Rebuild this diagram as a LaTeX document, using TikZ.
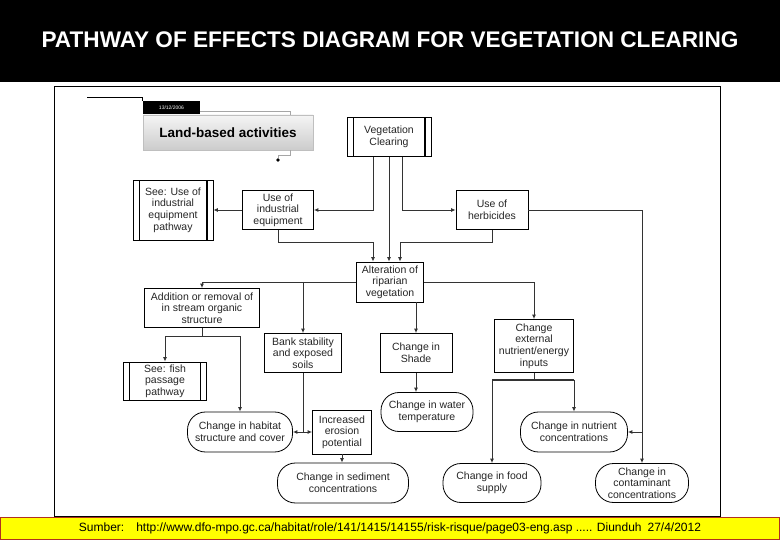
\documentclass[tikz,border=0pt]{standalone}
\usepackage{fontspec}
\setmainfont{Liberation Sans}
\usetikzlibrary{positioning,arrows.meta}
\definecolor{lineC}{HTML}{333333}
\definecolor{footC}{HTML}{FFFF00}
\definecolor{rimC}{HTML}{B03020}
\newcommand{\boxfont}{\fontsize{10.5}{11.6}\selectfont}
\tikzset{
  proc/.style={draw, fill=white, align=center, font=\boxfont, text=black!85, inner sep=1pt, line width=0.8pt},
  pathway/.style={proc, path picture={
      \draw[line width=0.8pt] ([xshift=6pt]path picture bounding box.south west) -- ([xshift=6pt]path picture bounding box.north west);
      \draw[line width=1.4pt] ([xshift=-6pt]path picture bounding box.south east) -- ([xshift=-6pt]path picture bounding box.north east);}},
  effect/.style={proc, rounded corners=18pt},
  flow/.style={draw=lineC, line width=0.9pt, -{Latex[length=4.5pt,width=4pt]}},
  bus/.style={draw=lineC, line width=1.8pt},
  deco/.style={draw=gray!70, line width=0.8pt},
}

\begin{document}
\begin{tikzpicture}[x=1pt, y=-1pt]
\useasboundingbox (0,0) rectangle (780,540);
\fill[black] (0,0) rectangle (780,82);
\node[font=\fontsize{22.6}{26}\selectfont\bfseries, text=white] (title) at (390,40) {PATHWAY OF EFFECTS DIAGRAM FOR VEGETATION CLEARING};
\draw[line width=0.8pt] (54,86) rectangle (720,516);
\fill[footC, draw=rimC, line width=1pt] (0.5,517) rectangle (779.5,539.5);
\node[font=\fontsize{12}{14}\selectfont] (source) at (390,528.5) {Sumber:\quad http://www.dfo-mpo.gc.ca/habitat/role/141/1415/14155/risk-risque/page03-eng.asp ..... Diunduh\enspace 27/4/2012};

\coordinate (rulestart) at (87,97);
\node[fill=black, text=white, font=\fontsize{5}{6}\selectfont, minimum width=57pt, minimum height=13pt, inner sep=0pt] (date) at (171.5,108) {13/12/2006};
\node[draw=gray!50, top color=gray!8, bottom color=gray!40, font=\fontsize{13.5}{15}\selectfont\bfseries, minimum width=170pt, minimum height=35pt] (land) at (228,132.5) {Land-based activities};
\node[circle, fill=black, inner sep=1.3pt] (dot) at (278,160) {};
\draw[line width=0.8pt] (rulestart) -| (date.north west);
\draw[deco] ([yshift=-3pt]date.east) -| ([xshift=62pt]land.north);
\draw[deco] ([xshift=62pt]land.south) -- ++(0,5) -| (dot);

\node[pathway, minimum width=84pt, minimum height=39pt] (vc) at (389,137) {Vegetation\\Clearing};
\node[pathway, minimum width=80pt, minimum height=60pt] (seeuie) at (173,210) {See: Use of\\industrial\\equipment\\pathway};
\node[proc, minimum width=71pt, minimum height=39pt] (uie) at (278,210) {Use of\\industrial\\equipment};
\node[proc, minimum width=72pt, minimum height=39pt] (herb) at (492,210) {Use of\\herbicides};
\node[proc, minimum width=67pt, minimum height=40pt] (alt) at (390,282) {Alteration of\\riparian\\vegetation};
\node[proc, minimum width=115pt, minimum height=39pt] (add) at (202,308) {Addition or removal of\\in stream organic\\structure};
\node[proc, minimum width=77pt, minimum height=39pt] (bank) at (303,353) {Bank stability\\and exposed\\soils};
\node[proc, minimum width=72pt, minimum height=39pt] (shade) at (416,353) {Change in\\Shade};
\node[proc, minimum width=79pt, minimum height=53pt] (ext) at (534,346) {Change\\external\\nutrient/energy\\inputs};
\node[pathway, minimum width=83pt, minimum height=38pt] (fish) at (165,381) {See: fish\\passage\\pathway};
\node[effect, minimum width=105pt, minimum height=40pt] (hab) at (240,432) {Change in habitat\\structure and cover};
\node[proc, minimum width=59pt, minimum height=44pt] (eros) at (342,432) {Increased\\erosion\\potential};
\node[effect, minimum width=92pt, minimum height=39pt] (water) at (427,412) {Change in water\\temperature};
\node[effect, minimum width=107pt, minimum height=40pt] (nutr) at (574,432) {Change in nutrient\\concentrations};
\node[effect, minimum width=131pt, minimum height=40pt] (sed) at (343,483) {Change in sediment\\concentrations};
\node[effect, minimum width=98pt, minimum height=39pt] (food) at (492,483) {Change in food\\supply};
\node[effect, minimum width=93pt, minimum height=39pt] (contam) at (642,483) {Change in\\contaminant\\concentrations};

\draw[flow] ([xshift=-16pt]vc.south) |- (uie.east);
\draw[flow] (vc.south) -- (vc.south |- alt.north);
\draw[flow] ([xshift=13pt]vc.south) |- (herb.west);
\draw[flow] (uie) -- (seeuie);
\draw[flow] (uie.south) -- ++(0,13) -| ([xshift=-17pt]alt.north);
\draw[flow] (herb.south) -- ++(0,13) -| ([xshift=10pt]alt.north);
\draw[flow] (herb.east) -| (contam.north);
\draw[flow] (contam.north |- nutr.east) -- (nutr.east);
\draw[flow] (alt.west) -| (add.north);
\draw[flow] (alt.west -| bank.north) -- (bank.north);
\draw[flow] (alt.east) -| (ext.north);
\draw[flow] (alt.south -| shade.north) -- (shade.north);
\draw[flow] (shade.south) -- (shade.south |- water.north);
\draw[flow] (add.south) -- ++(0,9) coordinate (addfork) -| (fish.north);
\draw[flow] (addfork) -| (hab.north);
\draw[flow] (bank.south) |- (hab.east);
\draw[flow] (bank.south |- hab.east) -- (eros.west);
\draw[flow] (eros.south) -- (eros.south |- sed.north);
\coordinate (extfork) at ([yshift=-7pt]ext.south);
\draw[draw=lineC, line width=0.9pt] (ext.south) -- (extfork);
\draw[bus] (extfork -| food.north) -- (extfork -| nutr.north);
\draw[flow] (extfork -| food.north) -- (food.north);
\draw[flow] (extfork -| nutr.north) -- (nutr.north);
\end{tikzpicture}
\end{document}
